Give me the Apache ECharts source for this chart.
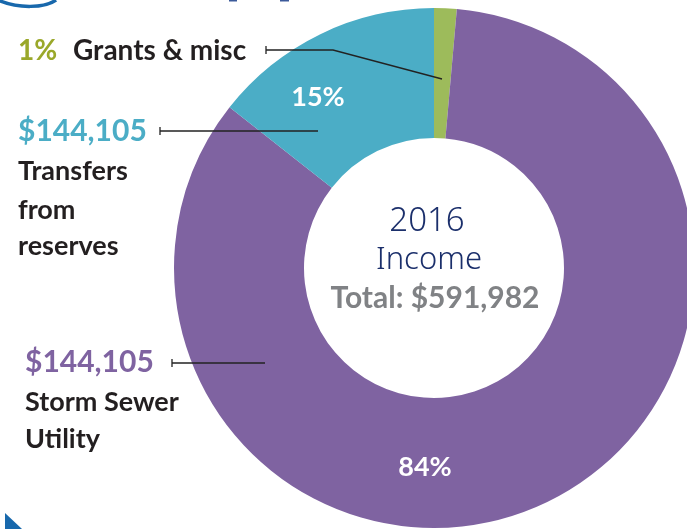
<!DOCTYPE html>
<html>
<head>
<meta charset="utf-8">
<script src="https://cdn.jsdelivr.net/npm/echarts@6/dist/echarts.min.js"></script>
<style>
html,body{margin:0;padding:0;background:#fff;}
#chart{width:687px;height:529px;}
</style>
</head>
<body>
<div id="chart"></div>
<script>
// Data (clockwise from 12 o'clock)
var categories = ['Grants & misc', 'Storm Sewer Utility', 'Transfers from reserves'];
var shares = [1.4, 84.2, 14.4];              // slice sizes
var pctLabels = ['1%', '84%', '15%'];
var amountLabels = ['', '$144,105', '$144,105'];
var colors = ['#9DBB5B', '#7F63A1', '#4BADC6'];
var centerLines = ['2016', 'Income', 'Total: $591,982'];

var chart = echarts.init(document.getElementById('chart'), null, {renderer: 'canvas'});

var labelPos = {1: [425, 467], 2: [318, 97]};

var data = categories.map(function (c, i) {
  return {
    name: c,
    value: shares[i],
    itemStyle: {color: colors[i]},
    label: {show: i !== 0, formatter: pctLabels[i]}
  };
});

var font = 'Lato, "Open Sans", sans-serif';

function txt(x, y, text, color, size, align) {
  return {
    type: 'text', x: x, y: y, silent: true, z: 100,
    style: {text: text, fill: color, font: 'bold ' + size + 'px ' + font,
            textAlign: align || 'left', textVerticalAlign: 'middle'}
  };
}
function leader(points) {
  return {
    type: 'polyline', silent: true, z: 100,
    shape: {points: points},
    style: {stroke: '#222', lineWidth: 1.3, fill: null}
  };
}
function tick(x, y) {
  return {type: 'line', silent: true, z: 100, shape: {x1: x, y1: y - 4, x2: x, y2: y + 4},
          style: {stroke: '#222', lineWidth: 1.3}};
}

var option = {
  backgroundColor: '#ffffff',
  animation: false,
  series: [{
    type: 'pie',
    z: 2,
    center: [434, 268],
    radius: [130, 260],
    startAngle: 90,
    clockwise: true,
    avoidLabelOverlap: false,
    data: data,
    label: {
      position: 'inside',
      color: '#ffffff',
      fontFamily: font,
      fontWeight: 'bold',
      fontSize: 27
    },
    labelLine: {show: false},
    labelLayout: function (p) {
      var pos = labelPos[p.dataIndex];
      if (pos) return {x: pos[0], y: pos[1]};
      return {};
    },
    itemStyle: {borderWidth: 0},
    emphasis: {disabled: true}
  }],
  graphic: [
    // decorations
    {type: 'bezierCurve', silent: true, z: 100,
     shape: {x1: -2, y1: 0, x2: 56, y2: 0, cpx1: 18, cpy1: 9, cpx2: 45, cpy2: 8},
     style: {stroke: '#1868AC', lineWidth: 3.5, fill: null}},
    {type: 'rect', silent: true, z: 100, shape: {x: 229, y: 0, width: 8, height: 1.5}, style: {fill: '#3C5A9A'}},
    {type: 'rect', silent: true, z: 100, shape: {x: 280, y: 0, width: 9, height: 1.5}, style: {fill: '#3C5A9A'}},
    {type: 'polygon', silent: true, z: 100, shape: {points: [[5, 513], [5, 529], [22, 529]]}, style: {fill: '#1868AC'}},

    // leader lines
    tick(266, 50), leader([[266, 50], [333, 50], [442, 79]]),
    tick(160, 131), leader([[160, 131], [318, 131]]),
    tick(172, 363), leader([[172, 363], [265, 363]]),

    // left labels
    txt(18, 51, pctLabels[0], '#9AA82A', 28),
    txt(73, 51, categories[0], '#231F20', 28),
    txt(18, 131, amountLabels[2], colors[2], 30),
    txt(18, 171, 'Transfers', '#231F20', 27),
    txt(18, 210, 'from', '#231F20', 27),
    txt(18, 246, 'reserves', '#231F20', 27),
    txt(25, 362, amountLabels[1], colors[1], 30),
    txt(25, 402, 'Storm Sewer', '#231F20', 27),
    txt(25, 439, 'Utility', '#231F20', 27),

    // center
    {type: 'text', x: 427, y: 222, silent: true, z: 100,
     style: {text: centerLines[0], fill: '#1B2F6B', font: '300 33px "Noto Sans", sans-serif',
             textAlign: 'center', textVerticalAlign: 'middle'}},
    {type: 'text', x: 429, y: 260, silent: true, z: 100,
     style: {text: centerLines[1], fill: '#1B2F6B', font: '300 31px "Noto Sans", sans-serif',
             textAlign: 'center', textVerticalAlign: 'middle'}},
    txt(435, 298, centerLines[2], '#808285', 30, 'center')
  ]
};
chart.setOption(option);
</script>
</body>
</html>
